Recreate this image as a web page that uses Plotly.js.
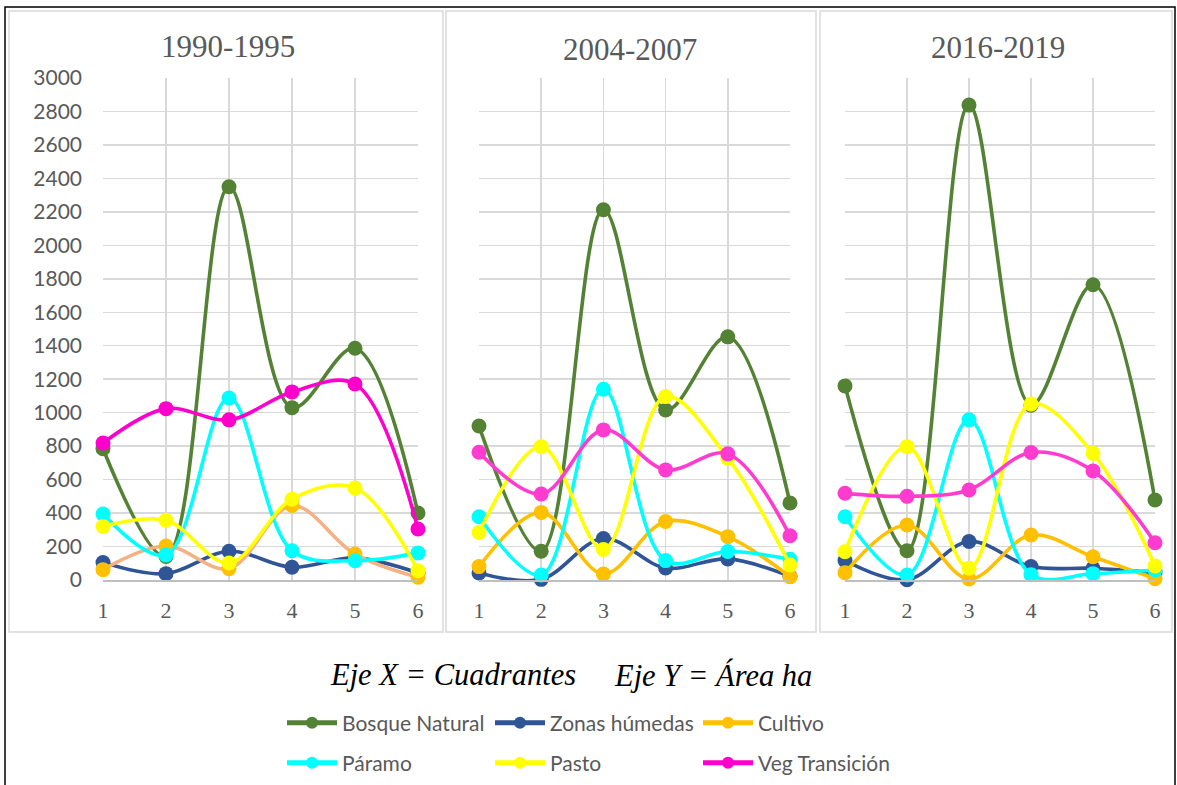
<!DOCTYPE html>
<html>
<head>
<meta charset="utf-8">
<script src="https://cdn.plot.ly/plotly-3.0.1.min.js"></script>
<style>
  html, body { margin: 0; padding: 0; background: #ffffff; }
  #chart { width: 1177px; height: 785px; }
</style>
</head>
<body>
<div id="chart"></div>
<script>
// ---- Data ----
const quadrants = [1, 2, 3, 4, 5, 6];
const periods = ['1990-1995', '2004-2007', '2016-2019'];
const seriesNames = ['Bosque Natural', 'Zonas húmedas', 'Cultivo', 'Páramo', 'Pasto', 'Veg Transición'];

const bosque1990 = [785, 140, 2350, 1030, 1385, 400];
const zonas1990 = [105, 38, 172, 76, 132, 42];
const cultivo1990 = [62, 203, 68, 445, 155, 16];
const paramo1990 = [394, 150, 1088, 175, 115, 162];
const pasto1990 = [320, 357, 102, 483, 550, 56];
const veg1990 = [818, 1024, 957, 1124, 1171, 305];

const bosque2004 = [920, 172, 2213, 1016, 1453, 460];
const zonas2004 = [42, 4, 248, 72, 126, 22];
const cultivo2004 = [80, 404, 36, 350, 259, 20];
const paramo2004 = [378, 30, 1140, 116, 170, 124];
const pasto2004 = [284, 797, 183, 1096, 728, 90];
const veg2004 = [763, 514, 897, 658, 754, 264];

const bosque2016 = [1160, 175, 2838, 1045, 1764, 478];
const zonas2016 = [116, 2, 230, 80, 70, 44];
const cultivo2016 = [44, 329, 6, 269, 139, 8];
const paramo2016 = [378, 30, 957, 32, 38, 60];
const pasto2016 = [169, 797, 70, 1052, 757, 84];
const veg2016 = [518, 500, 538, 762, 652, 223];

const yTicks = [0, 200, 400, 600, 800, 1000, 1200, 1400, 1600, 1800, 2000, 2200, 2400, 2600, 2800, 3000];

// ---- Styling ----
const W = 1177, H = 785;
const px = x => x / W;
const py = y => 1 - y / H;

const lineColors = ['#548235', '#2F5597', '#FFC000', '#00FFFF', '#FFFF00', '#FF00CC'];
const markerColors = ['#548235', '#2F5597', '#FFC000', '#00FFFF', '#FFFF00', '#FF00CC'];

const panelData = [
  [bosque1990, zonas1990, cultivo1990, paramo1990, pasto1990, veg1990],
  [bosque2004, zonas2004, cultivo2004, paramo2004, pasto2004, veg2004],
  [bosque2016, zonas2016, cultivo2016, paramo2016, pasto2016, veg2016]
];

function lineColor(p, s) {
  if (p === 0 && s === 2) return '#F4B183';
  if (p > 0 && s === 5) return '#FF3CCF';
  return lineColors[s];
}
function markerColor(p, s) {
  if (p > 0 && s === 5) return '#FF3CCF';
  return markerColors[s];
}

const traces = [];
for (let p = 0; p < 3; p++) {
  const axSuffix = p === 0 ? '' : String(p + 1);
  for (let s = 0; s < 6; s++) {
    const legendFrom = (s === 2) ? 1 : 0;
    traces.push({
      x: quadrants,
      y: panelData[p][s],
      name: seriesNames[s],
      type: 'scatter',
      mode: 'lines+markers',
      xaxis: 'x' + axSuffix,
      yaxis: 'y' + axSuffix,
      line: { color: lineColor(p, s), width: 3.6, shape: 'spline', smoothing: 1 },
      marker: { color: markerColor(p, s), size: 15 },
      cliponaxis: false,
      showlegend: p === legendFrom,
      legend: s < 3 ? 'legend' : 'legend2',
      legendrank: s,
      hoverinfo: 'x+y+name'
    });
  }
}

const xDomains = [[103, 418], [479, 790], [845, 1155]];
const yDomain = [py(580), py(78)];

function xAxis(p) {
  return {
    domain: [px(xDomains[p][0]), px(xDomains[p][1])],
    range: [1, 6],
    tickvals: quadrants,
    ticktext: quadrants.map(String),
    showgrid: true,
    gridcolor: '#d9d9d9',
    gridwidth: 1.5,
    zeroline: false,
    showline: true,
    linecolor: '#bfbfbf',
    linewidth: 1.5,
    ticks: '',
    ticklabelstandoff: 10,
    tickfont: { family: 'Liberation Serif, Times New Roman, serif', size: 22, color: '#595959' },
    anchor: p === 0 ? 'y' : 'y' + (p + 1),
    fixedrange: true
  };
}
function yAxis(p) {
  return {
    domain: yDomain,
    range: [0, 3000],
    tickvals: yTicks,
    showticklabels: p === 0,
    showgrid: true,
    gridcolor: '#d9d9d9',
    gridwidth: 1.5,
    zeroline: false,
    showline: false,
    ticks: '',
    ticklabelstandoff: 20,
    tickfont: { family: 'Lato, Carlito, sans-serif', size: 21, color: '#595959' },
    anchor: p === 0 ? 'x' : 'x' + (p + 1),
    fixedrange: true
  };
}

const titleCenters = [[228, 47], [630, 50], [998, 48]];
const annotations = periods.map((t, i) => ({
  text: t, xref: 'paper', yref: 'paper',
  x: px(titleCenters[i][0]), y: py(titleCenters[i][1]),
  xanchor: 'center', yanchor: 'middle', showarrow: false,
  font: { family: 'Liberation Serif, Times New Roman, serif', size: 31, color: '#595959' }
}));
annotations.push({
  text: 'Eje X = Cuadrantes', xref: 'paper', yref: 'paper',
  x: px(453), y: py(675), xanchor: 'center', yanchor: 'middle', showarrow: false,
  font: { family: 'Liberation Serif, Times New Roman, serif', size: 30.5, color: '#000000', style: 'italic' }
});
annotations.push({
  text: 'Eje Y = Área ha', xref: 'paper', yref: 'paper',
  x: px(713), y: py(675), xanchor: 'center', yanchor: 'middle', showarrow: false,
  font: { family: 'Liberation Serif, Times New Roman, serif', size: 30.5, color: '#000000', style: 'italic' }
});

function rect(x0, y0, x1, y1, color, width) {
  return {
    type: 'rect', xref: 'paper', yref: 'paper',
    x0: px(x0), x1: px(x1), y0: py(y1), y1: py(y0),
    line: { color: color, width: width }, fillcolor: 'rgba(0,0,0,0)', layer: 'below'
  };
}
const shapes = [
  rect(5, 7, 1175, 792, '#000000', 1.5),
  rect(9, 11, 443, 632, '#d9d9d9', 1.5),
  rect(446, 11, 816, 632, '#d9d9d9', 1.5),
  rect(820, 11, 1172, 632, '#d9d9d9', 1.5)
];

const legendCommon = {
  orientation: 'h',
  xref: 'paper', yref: 'paper',
  xanchor: 'left', yanchor: 'middle',
  itemwidth: 50,
  itemsizing: 'constant',
  entrywidth: 143,
  entrywidthmode: 'pixels',
  bgcolor: 'rgba(0,0,0,0)',
  borderwidth: 0,
  traceorder: 'normal',
  font: { family: 'Lato, Carlito, sans-serif', size: 21, color: '#595959' },
  itemclick: false, itemdoubleclick: false
};

const layout = {
  width: W, height: H,
  margin: { l: 0, r: 0, t: 0, b: 0 },
  paper_bgcolor: '#ffffff',
  plot_bgcolor: 'rgba(0,0,0,0)',
  showlegend: true,
  xaxis: xAxis(0), xaxis2: xAxis(1), xaxis3: xAxis(2),
  yaxis: yAxis(0), yaxis2: yAxis(1), yaxis3: yAxis(2),
  annotations: annotations,
  shapes: shapes,
  legend: Object.assign({}, legendCommon, { x: px(282), y: py(723) }),
  legend2: Object.assign({}, legendCommon, { x: px(282), y: py(763) })
};

Plotly.newPlot('chart', traces, layout, { displayModeBar: false, staticPlot: true });
</script>
</body>
</html>
